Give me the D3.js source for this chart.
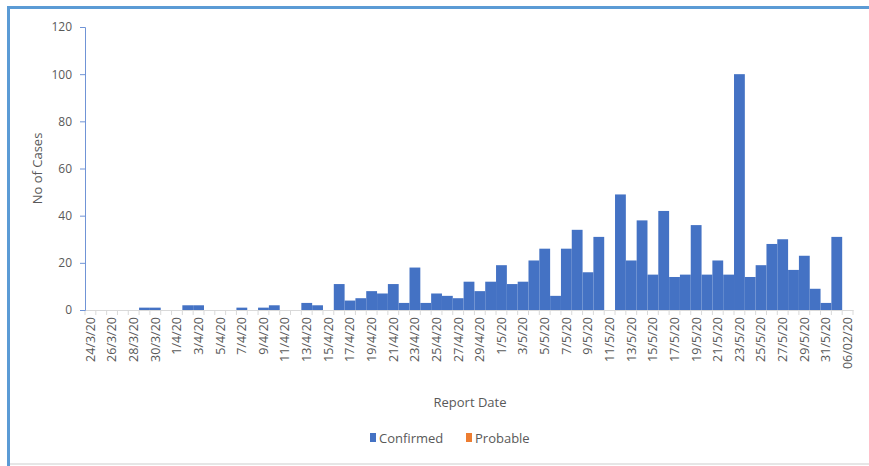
<!DOCTYPE html>
<html>
<head>
<meta charset="utf-8">
<script src="https://cdn.jsdelivr.net/npm/d3@7"></script>
<style>
  html, body { margin: 0; padding: 0; background: #fff; }
  svg { display: block; }
  text { font-family: "Open Sans", "Noto Sans", sans-serif; fill: #595959; }
</style>
</head>
<body>
<script>
const dates = [
  "24/3/20","25/3/20","26/3/20","27/3/20","28/3/20","29/3/20","30/3/20","31/3/20",
  "1/4/20","2/4/20","3/4/20","4/4/20","5/4/20","6/4/20","7/4/20","8/4/20","9/4/20","10/4/20",
  "11/4/20","12/4/20","13/4/20","14/4/20","15/4/20","16/4/20","17/4/20","18/4/20","19/4/20","20/4/20",
  "21/4/20","22/4/20","23/4/20","24/4/20","25/4/20","26/4/20","27/4/20","28/4/20","29/4/20","30/4/20",
  "1/5/20","2/5/20","3/5/20","4/5/20","5/5/20","6/5/20","7/5/20","8/5/20","9/5/20","10/5/20",
  "11/5/20","12/5/20","13/5/20","14/5/20","15/5/20","16/5/20","17/5/20","18/5/20","19/5/20","20/5/20",
  "21/5/20","22/5/20","23/5/20","24/5/20","25/5/20","26/5/20","27/5/20","28/5/20","29/5/20","30/5/20",
  "31/5/20","1/6/20","06/02/20"
];
const confirmed = [
  0,0,0,0,0,1,1,0,0,2,
  2,0,0,0,1,0,1,2,0,0,
  3,2,0,11,4,5,8,7,11,3,
  18,3,7,6,5,12,8,12,19,11,
  12,21,26,6,26,34,16,31,0,49,
  21,38,15,42,14,15,36,15,21,15,
  100,14,19,28,30,17,23,9,3,31,
  0
];
const probable = dates.map(() => 0);
const yTicks = [0,20,40,60,80,100,120];
const tickLabels = dates.filter((d, i) => i % 2 === 0);
const seriesNames = ["Confirmed", "Probable"];
const seriesColors = ["#4472C4", "#ED7D31"];

const W = 869, H = 466;
const svg = d3.select("body").append("svg").attr("width", W).attr("height", H);

// outer frame
svg.append("rect").attr("x", 0).attr("y", 0).attr("width", W).attr("height", H).attr("fill", "#fff");
svg.append("line").attr("x1", 7).attr("x2", W).attr("y1", 7.5).attr("y2", 7.5).attr("stroke", "#5B9BD5").attr("stroke-width", 3);
svg.append("line").attr("x1", 8.5).attr("x2", 8.5).attr("y1", 6).attr("y2", H).attr("stroke", "#5B9BD5").attr("stroke-width", 3);
svg.append("line").attr("x1", 10).attr("x2", W).attr("y1", 464).attr("y2", 464).attr("stroke", "#E6E6E6").attr("stroke-width", 2);

const pLeft = 85, pRight = 853, pTop = 27, pBottom = 310;
const x = d3.scaleBand().domain(dates).range([pLeft, pRight]).padding(0);
const y = d3.scaleLinear().domain([0, 120]).range([pBottom, pTop]);

// bars (confirmed, then probable stacked on top — all zero)
svg.append("g").selectAll("rect").data(dates).join("rect")
  .attr("x", d => x(d))
  .attr("width", x.bandwidth())
  .attr("y", (d, i) => y(confirmed[i]))
  .attr("height", (d, i) => y(0) - y(confirmed[i]))
  .attr("fill", seriesColors[0]);
svg.append("g").selectAll("rect").data(dates).join("rect")
  .attr("x", d => x(d))
  .attr("width", x.bandwidth())
  .attr("y", (d, i) => y(confirmed[i] + probable[i]))
  .attr("height", (d, i) => y(confirmed[i]) - y(confirmed[i] + probable[i]))
  .attr("fill", seriesColors[1]);

// x axis
const xAxis = d3.axisBottom(x).tickSize(0).tickFormat(d => tickLabels.includes(d) ? d : "");
const gx = svg.append("g").attr("transform", `translate(0,${pBottom})`).call(xAxis);
gx.select(".domain").attr("stroke", "#D9D9D9");
gx.selectAll(".tick text")
  .attr("transform", "rotate(-90)")
  .attr("text-anchor", "end")
  .attr("x", -7)
  .attr("y", 0)
  .attr("dy", "0.35em")
  .style("font-size", "12.5px")
  .style("fill", "#595959");
// category boundary tick marks
svg.append("g").selectAll("line").data(dates.concat(["__end"])).join("line")
  .attr("x1", (d, i) => pLeft + i * x.step())
  .attr("x2", (d, i) => pLeft + i * x.step())
  .attr("y1", pBottom).attr("y2", pBottom + 5)
  .attr("stroke", "#D9D9D9");

// y axis
const gy = svg.append("g").attr("transform", `translate(${pLeft},0)`)
  .call(d3.axisLeft(y).tickValues(yTicks).tickSize(5).tickPadding(8));
gy.select(".domain").attr("stroke", "#7094D6");
gy.selectAll(".tick line").attr("stroke", "#7094D6");
gy.selectAll(".tick text").style("font-size", "12px").style("fill", "#595959");

// axis titles
svg.append("text").attr("transform", `translate(42,${(pTop + pBottom) / 2}) rotate(-90)`)
  .attr("text-anchor", "middle").style("font-size", "13px").text("No of Cases");
svg.append("text").attr("x", 470).attr("y", 407)
  .attr("text-anchor", "middle").style("font-size", "13px").text("Report Date");

// legend
const legX = [370, 466];
const lg = svg.append("g");
seriesNames.forEach((n, i) => {
  lg.append("rect").attr("x", legX[i]).attr("y", 433).attr("width", 6).attr("height", 9).attr("fill", seriesColors[i]);
  lg.append("text").attr("x", legX[i] + 9).attr("y", 442.5).style("font-size", "13px").text(n);
});
</script>
</body>
</html>
